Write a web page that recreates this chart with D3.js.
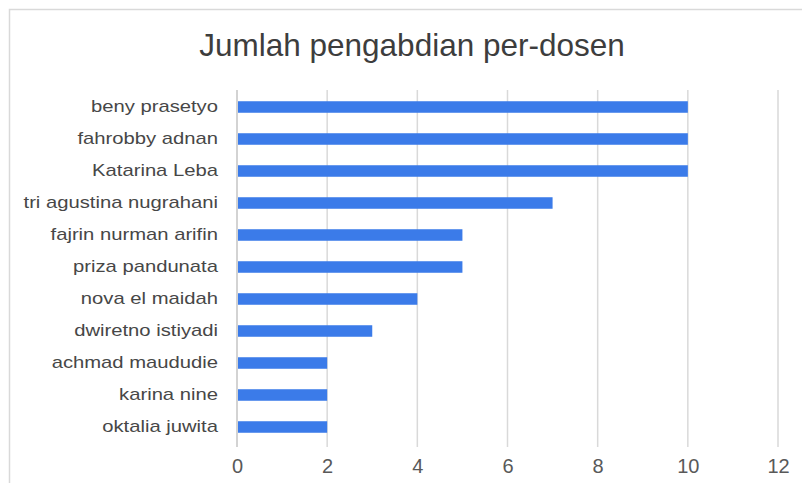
<!DOCTYPE html>
<html>
<head>
<meta charset="utf-8">
<script src="https://cdn.jsdelivr.net/npm/d3@7"></script>
<style>
  body { margin: 0; background: #fff; }
  svg { display: block; font-family: "Liberation Sans", Arial, sans-serif; }
</style>
</head>
<body>
<div id="chart"></div>
<script>
const names = ['beny prasetyo', 'fahrobby adnan', 'Katarina Leba', 'tri agustina nugrahani',
  'fajrin nurman arifin', 'priza pandunata', 'nova el maidah', 'dwiretno istiyadi',
  'achmad maududie', 'karina nine ', 'oktalia juwita']
const counts = [10, 10, 10, 7, 5, 5, 4, 3, 2, 2, 2]
const ticks = [0, 2, 4, 6, 8, 10, 12]
const title = 'Jumlah pengabdian per-dosen'

const width = 802
const height = 483
const margin = {top: 90, right: 24, bottom: 36, left: 237}

const svg = d3.select('#chart').append('svg')
  .attr('width', width)
  .attr('height', height)

// outer frame (only left and top edges are in view)
svg.append('path')
  .attr('d', 'M9.5,' + height + 'V9.5H' + width)
  .attr('fill', 'none')
  .attr('stroke', '#d9d9d9')
  .attr('stroke-width', 1.5)

svg.append('text')
  .attr('x', 412)
  .attr('y', 56)
  .attr('text-anchor', 'middle')
  .attr('fill', '#3d3d3d')
  .attr('font-size', 31.5)
  .text(title)

const x = d3.scaleLinear()
  .domain([0, 12])
  .range([margin.left, 778])

const y = d3.scaleBand()
  .domain(names)
  .range([91, 443])
  .paddingInner(0.64)
  .paddingOuter(0.32)

svg.append('g')
  .selectAll('line')
  .data(ticks)
  .join('line')
  .attr('x1', d => x(d))
  .attr('x2', d => x(d))
  .attr('y1', margin.top)
  .attr('y2', 447)
  .attr('stroke', d => d === 0 ? '#c4c4c4' : '#d9d9d9')
  .attr('stroke-width', 1.5)

svg.append('g')
  .selectAll('rect')
  .data(names)
  .join('rect')
  .attr('x', x(0) + 1)
  .attr('y', d => y(d))
  .attr('width', (d, i) => x(counts[i]) - x(0) - 1)
  .attr('height', y.bandwidth())
  .attr('fill', '#3b7be9')

// category labels look horizontally stretched in the original
const yAxis = d3.axisLeft(y).tickSize(0).tickPadding(16)
svg.append('g')
  .attr('transform', 'translate(' + margin.left + ',0)')
  .call(yAxis)
  .call(g => g.select('.domain').remove())
  .selectAll('text')
  .attr('font-size', 17)
  .attr('fill', '#474747')
  .attr('font-family', '"Liberation Sans", Arial, sans-serif')
  .attr('transform', 'scale(1.19,1)')

const xAxis = d3.axisBottom(x).tickValues(ticks).tickSize(0).tickPadding(15)
svg.append('g')
  .attr('transform', 'translate(0,444)')
  .call(xAxis)
  .call(g => g.select('.domain').remove())
  .selectAll('text')
  .attr('font-size', 20)
  .attr('fill', '#595959')
  .attr('font-family', '"Liberation Sans", Arial, sans-serif')
</script>
</body>
</html>
